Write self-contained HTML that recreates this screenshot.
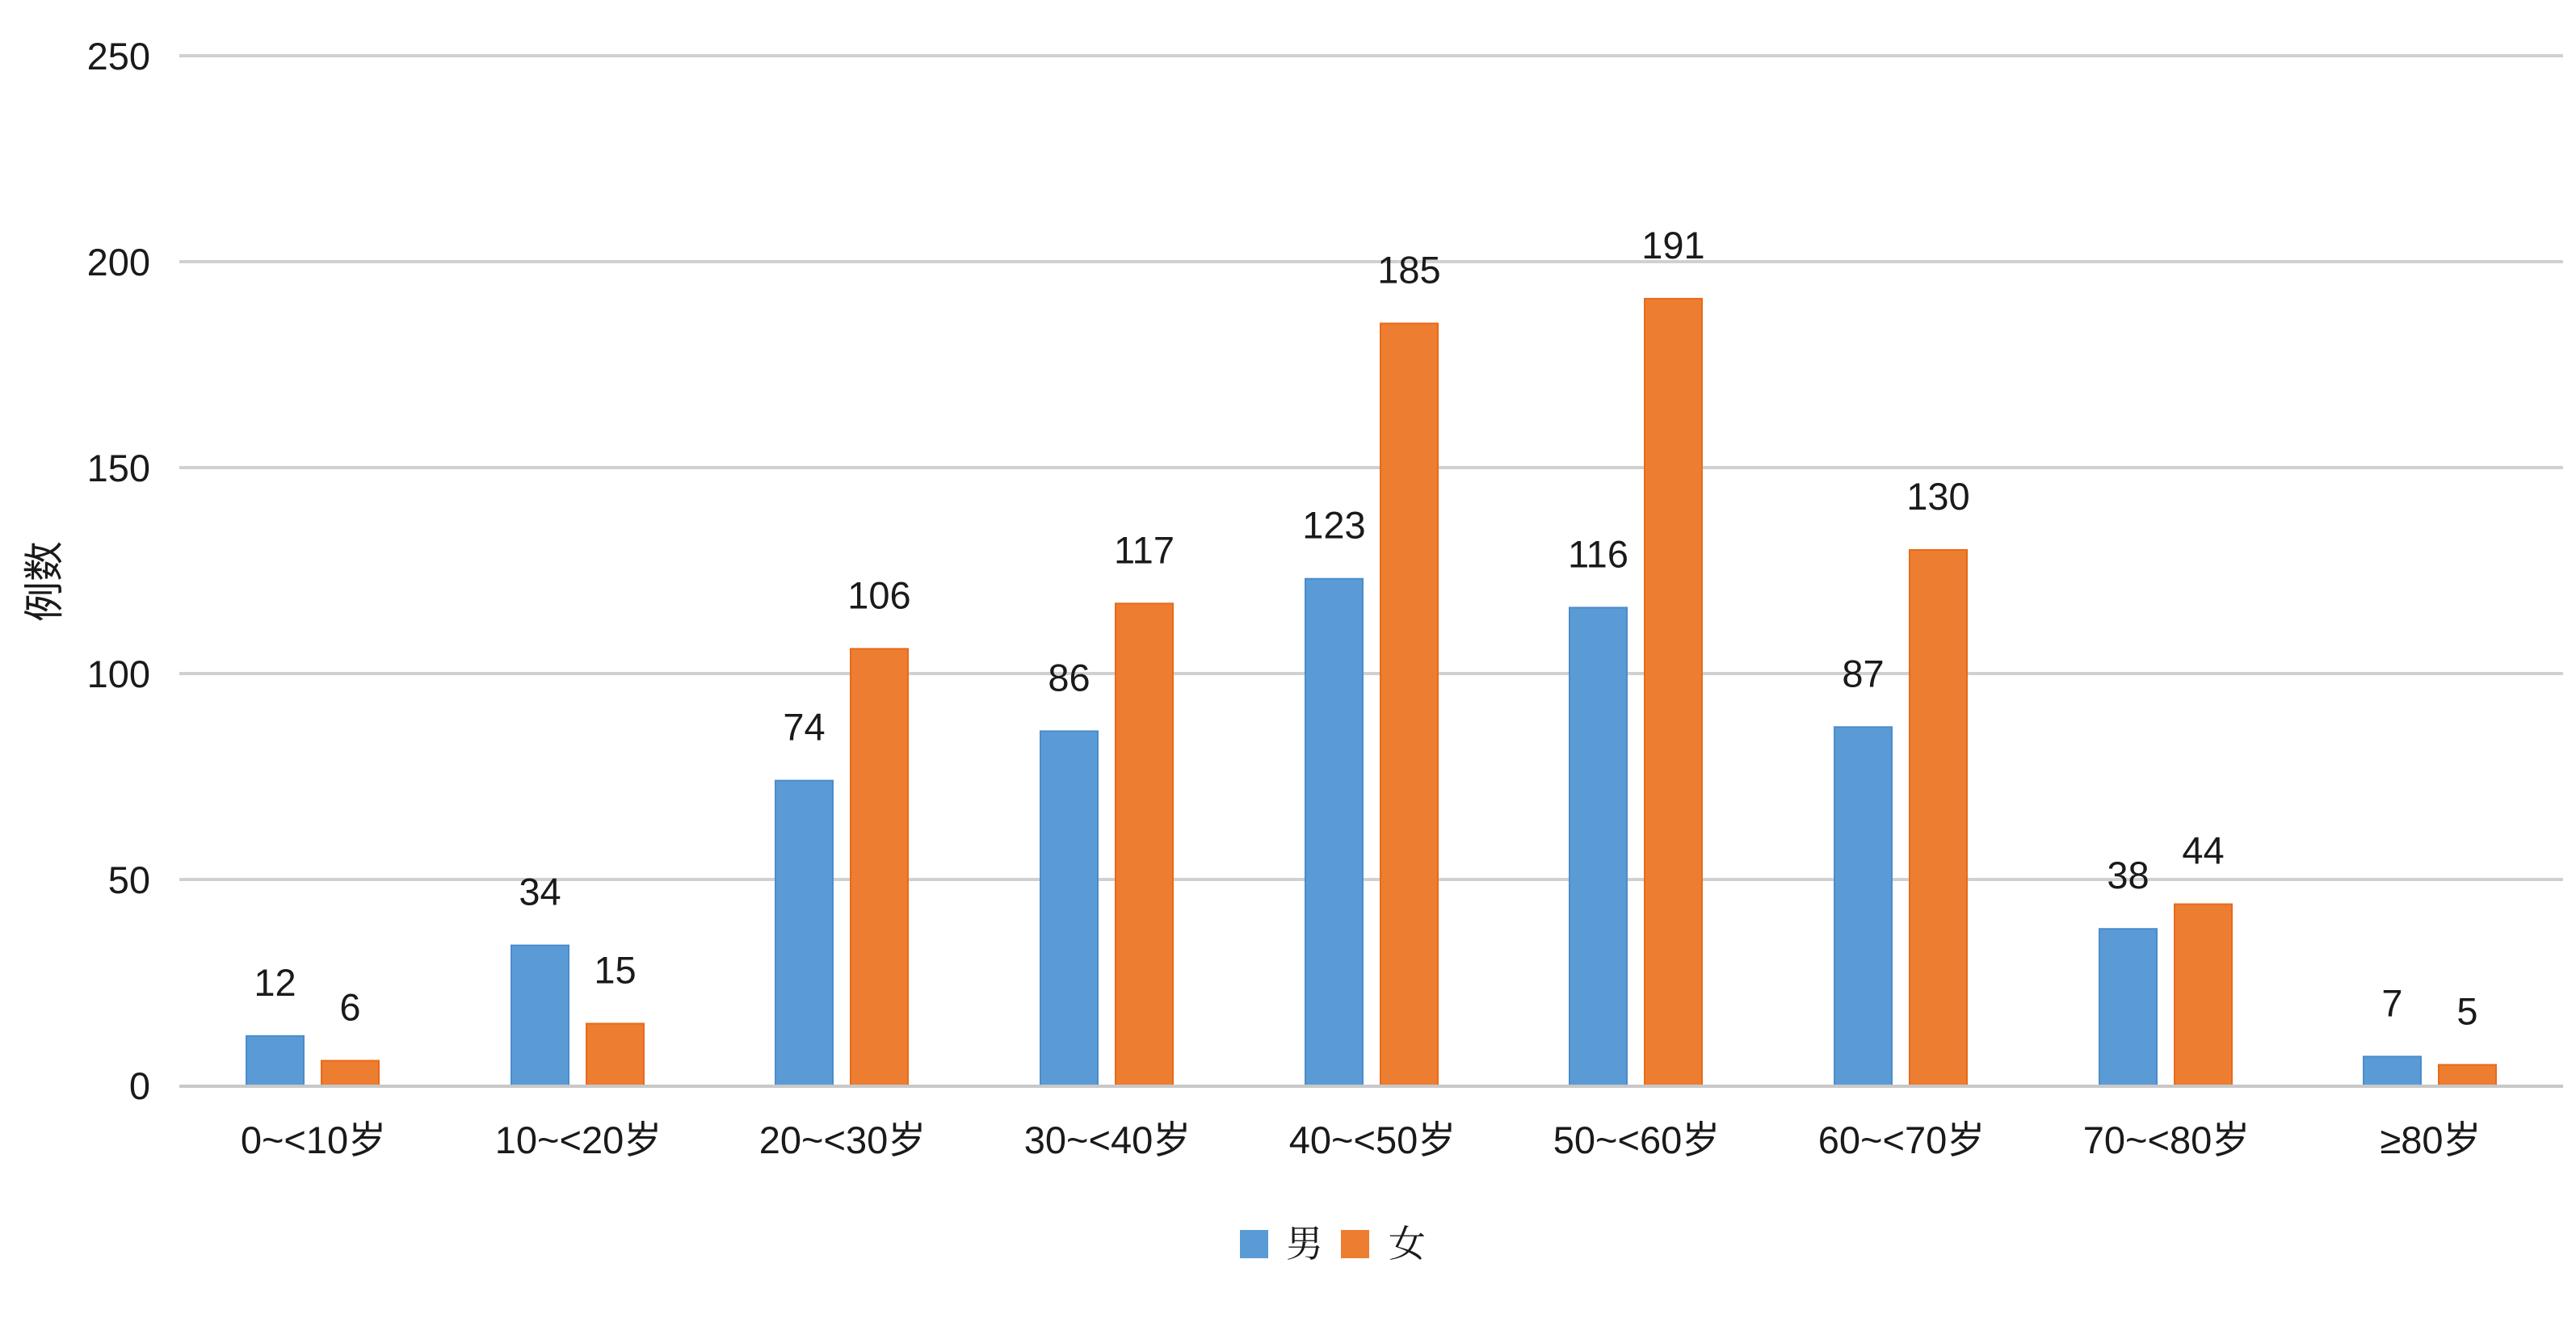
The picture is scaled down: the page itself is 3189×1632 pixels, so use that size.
<!DOCTYPE html>
<html><head><meta charset="utf-8"><style>
html,body{margin:0;padding:0;background:#fff;}
svg{display:block;}
text{font-family:"Liberation Sans","Noto Sans CJK SC",sans-serif;fill:#1a1a1a;}
</style></head><body>
<svg width="3189" height="1632" xmlns="http://www.w3.org/2000/svg">
<g stroke="#d0d0d0" stroke-width="4">
<line x1="222" y1="69" x2="3173" y2="69"/>
<line x1="222" y1="324" x2="3173" y2="324"/>
<line x1="222" y1="579" x2="3173" y2="579"/>
<line x1="222" y1="834" x2="3173" y2="834"/>
<line x1="222" y1="1089" x2="3173" y2="1089"/>
</g>
<g font-size="47" text-anchor="end">
<text x="186" y="86">250</text>
<text x="186" y="341">200</text>
<text x="186" y="596">150</text>
<text x="186" y="851">100</text>
<text x="186" y="1106">50</text>
<text x="186" y="1361">0</text>
</g>
<text font-size="50" text-anchor="middle" transform="translate(72,720) rotate(-90)">例数</text>
<g fill="#5b9bd5" stroke="#4a8ccc" stroke-width="2">
<rect x="305" y="1282.8" width="71" height="61.2"/>
<rect x="633" y="1170.6" width="71" height="173.4"/>
<rect x="960" y="966.6" width="71" height="377.4"/>
<rect x="1288" y="905.4" width="71" height="438.6"/>
<rect x="1616" y="716.7" width="71" height="627.3"/>
<rect x="1943" y="752.4" width="71" height="591.6"/>
<rect x="2271" y="900.3" width="71" height="443.7"/>
<rect x="2599" y="1150.2" width="71" height="193.8"/>
<rect x="2926" y="1308.3" width="71" height="35.7"/>
</g>
<g fill="#ed7d31" stroke="#e86a1a" stroke-width="2">
<rect x="398" y="1313.4" width="71" height="30.6"/>
<rect x="726" y="1267.5" width="71" height="76.5"/>
<rect x="1053" y="803.4" width="71" height="540.6"/>
<rect x="1381" y="747.3" width="71" height="596.7"/>
<rect x="1709" y="400.5" width="71" height="943.5"/>
<rect x="2036" y="369.9" width="71" height="974.1"/>
<rect x="2364" y="681" width="71" height="663"/>
<rect x="2692" y="1119.6" width="71" height="224.4"/>
<rect x="3019" y="1318.5" width="71" height="25.5"/>
</g>
<g font-size="47" text-anchor="middle">
<text x="340.5" y="1232.8">12</text>
<text x="668.5" y="1120.6">34</text>
<text x="995.5" y="916.6">74</text>
<text x="1323.5" y="855.4">86</text>
<text x="1651.5" y="666.7">123</text>
<text x="1978.5" y="702.4">116</text>
<text x="2306.5" y="850.3">87</text>
<text x="2634.5" y="1100.2">38</text>
<text x="2961.5" y="1258.3">7</text>
<text x="433.5" y="1263.4">6</text>
<text x="761.5" y="1217.5">15</text>
<text x="1088.5" y="753.4">106</text>
<text x="1416.5" y="697.3">117</text>
<text x="1744.5" y="350.5">185</text>
<text x="2071.5" y="319.9">191</text>
<text x="2399.5" y="631">130</text>
<text x="2727.5" y="1069.6">44</text>
<text x="3054.5" y="1268.5">5</text>
<text x="388" y="1428">0~&lt;10岁</text>
<text x="716" y="1428">10~&lt;20岁</text>
<text x="1043" y="1428">20~&lt;30岁</text>
<text x="1371" y="1428">30~&lt;40岁</text>
<text x="1699" y="1428">40~&lt;50岁</text>
<text x="2026" y="1428">50~&lt;60岁</text>
<text x="2354" y="1428">60~&lt;70岁</text>
<text x="2682" y="1428">70~&lt;80岁</text>
<text x="3009" y="1428">≥80岁</text>
</g>
<line x1="222" y1="1345" x2="3173" y2="1345" stroke="#c8c8c8" stroke-width="4"/>
<rect x="1535" y="1523" width="35" height="35" fill="#5b9bd5"/>
<rect x="1660" y="1523" width="35" height="35" fill="#ed7d31"/>
<text x="1615" y="1556" font-size="46" text-anchor="middle" style="font-family:'Noto Serif CJK SC',serif">男</text>
<text x="1742" y="1556" font-size="46" text-anchor="middle" style="font-family:'Noto Serif CJK SC',serif">女</text>
</svg>
</body></html>
